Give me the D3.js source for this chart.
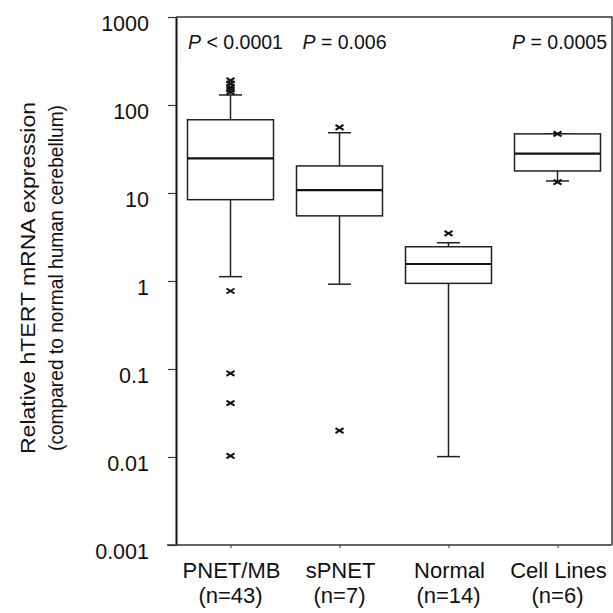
<!DOCTYPE html>
<html>
<head>
<meta charset="utf-8">
<script src="https://cdn.jsdelivr.net/npm/d3@7"></script>
<style>
    body { margin: 0; background: #fff; }
    text { font-family: "Liberation Sans", Arial, sans-serif; fill: #111; }
</style>
</head>
<body>
<div id="graph"></div>
<script>
// Groups and sample sizes
const categories = ["PNET/MB", "sPNET", "Normal", "Cell Lines"];
const sampleSizes = ["(n=43)", "(n=7)", "(n=14)", "(n=6)"];

// Box statistics
const lowerQuartile = [8.4, 5.5, 0.94, 17.8];
const medians = [24.8, 10.8, 1.56, 28];
const upperQuartile = [68, 20.3, 2.45, 47];
const whiskerLow = [1.12, 0.92, 0.0101, 13.7];
const whiskerHigh = [130, 48.4, 2.72, 47];
const outliers = [
    [190, 175, 160, 150, 140, 0.77, 0.089, 0.041, 0.0103],
    [55.8, 0.0199],
    [3.48],
    [47, 13.3]
];

// P values shown above groups (null = none)
const pValues = ["< 0.0001", "= 0.006", null, "= 0.0005"];

// Y tick values and labels
const yTicks = [1000, 100, 10, 1, 0.1, 0.01, 0.001];
const yTickLabels = ["1000", "100", "10", "1", "0.1", "0.01", "0.001"];

// Y axis title lines
const yTitle = ["Relative hTERT mRNA expression", "(compared to normal human cerebellum)"];

const boxPlot = {
    init: function (width, height) {
        this.width = width;
        this.height = height;
        this.margin = { left: 176, right: 1, top: 17, bottom: 68 };

        this.svg = d3.select("#graph").append("svg")
            .attr("width", width)
            .attr("height", height);

        this.xScale = d3.scalePoint()
            .domain(categories)
            .range([this.margin.left, width - this.margin.right])
            .padding(0.5);

        this.yScale = d3.scaleLog()
            .domain([0.001, 1000])
            .range([height - this.margin.bottom, this.margin.top]);

        this.drawAxes();
        this.drawBoxes();
        this.drawLabels();
    },

    drawAxes: function () {
        const x = this.xScale, y = this.yScale;
        const left = this.margin.left, right = this.width - this.margin.right;

        // Left axis with outward ticks; labels sit a little below their tick
        const leftAxis = d3.axisLeft(y)
            .tickValues(yTicks)
            .tickFormat((d, i) => yTickLabels[i])
            .tickSize(8)
            .tickSizeOuter(0)
            .tickPadding(19);
        const gLeft = this.svg.append("g")
            .attr("transform", `translate(${left},0)`)
            .call(leftAxis);
        gLeft.select(".domain").attr("stroke", "#111").attr("stroke-width", 2);
        gLeft.selectAll(".tick line").attr("stroke", "#333").attr("stroke-width", 1.2);
        gLeft.selectAll(".tick text")
            .attr("font-size", 21.5)
            .attr("dy", 13.5)
            .attr("fill", "#111");

        // Bottom axis with small ticks
        const bottomAxis = d3.axisBottom(x).tickSize(3).tickSizeOuter(0).tickFormat("");
        const gBottom = this.svg.append("g")
            .attr("transform", `translate(0,${y(0.001)})`)
            .call(bottomAxis);
        gBottom.select(".domain").attr("stroke", "#333").attr("stroke-width", 1.5)
            .attr("d", `M${left - 9},0H${right}`);
        gBottom.selectAll(".tick line").attr("stroke", "#333");

        // Frame on top and right
        this.svg.append("path")
            .attr("d", `M${left},${y(1000)}H${right}V${y(0.001)}`)
            .attr("fill", "none")
            .attr("stroke", "#333")
            .attr("stroke-width", 1.5);
    },

    drawBoxes: function () {
        const x = this.xScale, y = this.yScale;
        const boxW = 86, capW = 23;
        const data = categories.map((c, i) => ({
            c: c, q1: lowerQuartile[i], med: medians[i], q3: upperQuartile[i],
            lo: whiskerLow[i], hi: whiskerHigh[i], out: outliers[i]
        }));

        const g = this.svg.append("g")
            .attr("stroke", "#222")
            .attr("fill", "none");

        const groups = g.selectAll("g.box").data(data).join("g").attr("class", "box");

        // Whiskers
        groups.append("line")
            .attr("x1", d => x(d.c)).attr("x2", d => x(d.c))
            .attr("y1", d => y(d.q3)).attr("y2", d => y(d.hi))
            .attr("stroke-width", 1.5);
        groups.append("line")
            .attr("x1", d => x(d.c)).attr("x2", d => x(d.c))
            .attr("y1", d => y(d.q1)).attr("y2", d => y(d.lo))
            .attr("stroke-width", 1.5);
        groups.append("line")
            .attr("x1", d => x(d.c) - capW / 2).attr("x2", d => x(d.c) + capW / 2)
            .attr("y1", d => y(d.hi)).attr("y2", d => y(d.hi))
            .attr("stroke-width", 1.5);
        groups.append("line")
            .attr("x1", d => x(d.c) - capW / 2).attr("x2", d => x(d.c) + capW / 2)
            .attr("y1", d => y(d.lo)).attr("y2", d => y(d.lo))
            .attr("stroke-width", 1.5);

        // Box and median
        groups.append("rect")
            .attr("x", d => x(d.c) - boxW / 2)
            .attr("width", boxW)
            .attr("y", d => y(d.q3))
            .attr("height", d => y(d.q1) - y(d.q3))
            .attr("fill", "#fff")
            .attr("stroke-width", 1.5);
        groups.append("line")
            .attr("x1", d => x(d.c) - boxW / 2).attr("x2", d => x(d.c) + boxW / 2)
            .attr("y1", d => y(d.med)).attr("y2", d => y(d.med))
            .attr("stroke", "#111")
            .attr("stroke-width", 2.2);

        // Outlier crosses
        groups.selectAll("path.out")
            .data(d => d.out.map(v => ({ c: d.c, v: v })))
            .join("path")
            .attr("class", "out")
            .attr("d", d => {
                const cx = x(d.c), cy = y(d.v);
                return `M${cx - 4},${cy - 2.5}L${cx + 4},${cy + 2.5}M${cx - 4},${cy + 2.5}L${cx + 4},${cy - 2.5}`;
            })
            .attr("stroke", "#111")
            .attr("stroke-width", 2);
    },

    drawLabels: function () {
        const x = this.xScale, y = this.yScale;
        const maxRight = this.width - 6;

        // Category labels under the axis, kept inside the page
        const lab = this.svg.append("g").attr("text-anchor", "middle").attr("font-size", 22);
        lab.selectAll("text.cat").data(categories).join("text")
            .attr("class", "cat")
            .attr("y", 578)
            .text(d => d)
            .each(function (d, i) {
                const w = this.getComputedTextLength();
                d3.select(this).attr("x", Math.min(x(categories[i]) + 1, maxRight - w / 2));
            });
        lab.selectAll("text.n").data(sampleSizes).join("text")
            .attr("class", "n")
            .attr("y", 603)
            .text(d => d)
            .attr("x", (d, i) => x(categories[i]));

        // P values along the top
        const pv = this.svg.append("g").attr("text-anchor", "middle").attr("font-size", 19.5);
        pv.selectAll("text").data(pValues.map((p, i) => ({ p: p, c: categories[i] })).filter(d => d.p))
            .join("text")
            .attr("y", 49)
            .each(function (d) {
                const t = d3.select(this);
                t.append("tspan").attr("font-style", "italic").text("P");
                t.append("tspan").text(" " + d.p);
                const w = this.getComputedTextLength();
                t.attr("x", Math.min(x(d.c) + 5, maxRight - w / 2));
            });

        // Y axis title, two rotated lines fitted to the lengths seen in the figure
        const mid = (y(1000) + y(0.001)) / 2 - 3;
        const lengths = [352, 346];
        this.svg.append("g").selectAll("text.title").data(yTitle).join("text")
            .attr("class", "title")
            .attr("text-anchor", "middle")
            .attr("font-size", 21)
            .attr("transform", (d, i) => `translate(${35 + i * 28},${mid}) rotate(-90)`)
            .attr("textLength", (d, i) => lengths[i])
            .attr("lengthAdjust", "spacingAndGlyphs")
            .text(d => d);
    }
};

document.addEventListener("DOMContentLoaded", function () {
    boxPlot.init(613, 613);
});
</script>
</body>
</html>
